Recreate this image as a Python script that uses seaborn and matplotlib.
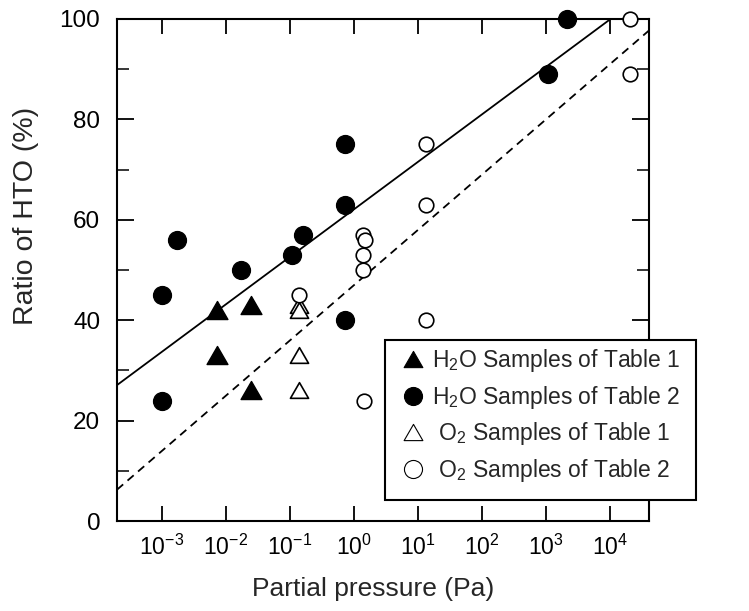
import numpy as np
import pandas as pd
import matplotlib
matplotlib.use("Agg")
import matplotlib.pyplot as plt
from matplotlib.path import Path
from matplotlib.lines import Line2D
from matplotlib.patches import Rectangle
import seaborn as sns

# ---- data -------------------------------------------------------------
h2o_t1_pressure = [0.0072, 0.0072, 0.025, 0.025]
h2o_t1_ratio = [42, 33, 43, 26]

h2o_t2_pressure = [0.001, 0.001, 0.0017, 0.0173, 0.106, 0.16, 0.71, 0.71, 0.71, 1060, 2100]
h2o_t2_ratio = [45, 24, 56, 50, 53, 57, 75, 63, 40, 89, 100]

o2_t1_pressure = [0.14, 0.14, 0.14, 0.14]
o2_t1_ratio = [43, 42, 33, 26]

o2_t2_pressure = [0.14, 1.36, 1.49, 1.40, 1.40, 1.44, 13.4, 13.4, 13.4, 20500, 20500]
o2_t2_ratio = [45, 57, 56, 53, 50, 24, 75, 63, 40, 100, 89]

# linear fits of ratio against log10(pressure): (intercept, slope, x-range)
h2o_fit = (62.1, 9.47, (2e-4, 1e4))
o2_fit = (47.0, 11.02, (2e-4, 4e4))

x_ticks = [1e-3, 1e-2, 1e-1, 1e0, 1e1, 1e2, 1e3, 1e4]
x_tick_labels = [r"$10^{-3}$", r"$10^{-2}$", r"$10^{-1}$", r"$10^{0}$",
                 r"$10^{1}$", r"$10^{2}$", r"$10^{3}$", r"$10^{4}$"]
y_ticks = [0, 20, 40, 60, 80, 100]

labels = [r"H$_2$O Samples of Table 1", r"H$_2$O Samples of Table 2",
          r" O$_2$ Samples of Table 1", r" O$_2$ Samples of Table 2"]

# ---- style ------------------------------------------------------------
sns.set_style("ticks")
plt.rcParams["font.family"] = ["Liberation Sans", "DejaVu Sans"]
plt.rcParams["mathtext.fontset"] = "custom"
plt.rcParams["mathtext.rm"] = "Liberation Sans"
plt.rcParams["mathtext.it"] = "Liberation Sans:italic"
plt.rcParams["mathtext.bf"] = "Liberation Sans:bold"
plt.rcParams["mathtext.default"] = "regular"

# equilateral triangle, centred on its bounding box
tri = Path([(-1, -0.866), (1, -0.866), (0, 0.866), (-1, -0.866)],
           [Path.MOVETO, Path.LINETO, Path.LINETO, Path.CLOSEPOLY])

W, H = 749, 611
fig = plt.figure(figsize=(W / 100, H / 100), dpi=100)
ax = fig.add_axes([117 / W, 1 - 521 / H, 532 / W, 502 / H])

groups = [
    (h2o_t1_pressure, h2o_t1_ratio, tri, 225, "black", "black", 1.0),
    (h2o_t2_pressure, h2o_t2_ratio, "o", 165, "black", "black", 1.0),
    (o2_t1_pressure, o2_t1_ratio, tri, 170, "white", "black", 1.2),
    (o2_t2_pressure, o2_t2_ratio, "o", 110, "white", "black", 1.2),
]

# fit lines
for (a, b, (x0, x1)), ls in [(h2o_fit, "-"), (o2_fit, (0, (4.5, 3.2)))]:
    xs = np.logspace(np.log10(x0), np.log10(x1), 50)
    fit_df = pd.DataFrame({"pressure": xs, "ratio": a + b * np.log10(xs)})
    sns.lineplot(data=fit_df, x="pressure", y="ratio", ax=ax, color="black",
                 lw=1.3, linestyle=ls, clip_on=False, zorder=2)

for px, ry, mk, s, fc, ec, lw in groups:
    df = pd.DataFrame({"pressure": px, "ratio": ry})
    sns.scatterplot(data=df, x="pressure", y="ratio", ax=ax, marker=mk, s=s,
                    color=fc, edgecolor=ec, linewidth=lw, clip_on=False,
                    zorder=3, legend=False)

ax.set_xscale("log")
ax.set_xlim(2e-4, 4e4)
ax.set_ylim(0, 100)
ax.set_xticks(x_ticks)
ax.set_xticklabels(x_tick_labels)
ax.xaxis.set_minor_locator(matplotlib.ticker.NullLocator())
ax.set_yticks(y_ticks)
ax.set_yticks(np.arange(10, 100, 20), minor=True)

for side in ["top", "right", "bottom", "left"]:
    ax.spines[side].set_visible(True)
    ax.spines[side].set_linewidth(1.5)
    ax.spines[side].set_color("black")

ax.tick_params(axis="x", which="major", direction="in", top=True, bottom=True,
               length=11, width=1.3, labelsize=16.5, pad=10, colors="black")
ax.tick_params(axis="y", which="major", direction="in", left=True, right=True,
               length=12, width=1.3, labelsize=17.5, pad=12, colors="black")
ax.tick_params(axis="y", which="minor", direction="in", left=True, right=True,
               length=8.5, width=1.3)

ax.set_xlabel("Partial pressure (Pa)", fontsize=19)
ax.set_ylabel("Ratio of HTO (%)", fontsize=20.5)
ax.xaxis.set_label_coords(0.481, -0.111)
ax.yaxis.set_label_coords(-0.147, 0.608)

# legend: markers and labels, with a plain rectangular frame
handles = [
    Line2D([], [], ls="none", marker=tri, ms=13.5, mfc="black", mec="black", mew=0.8),
    Line2D([], [], ls="none", marker="o", ms=13, mfc="black", mec="black", mew=0.8),
    Line2D([], [], ls="none", marker=tri, ms=13.5, mfc="white", mec="black", mew=0.8),
    Line2D([], [], ls="none", marker="o", ms=13, mfc="white", mec="black", mew=0.8),
]
fig.legend(handles, labels, loc="upper left",
           bbox_to_anchor=(402 / W, 1 - 347 / H),
           frameon=False, fontsize=16.5, handletextpad=0.31,
           labelspacing=0.42, borderpad=0, borderaxespad=0,
           handlelength=1.0)
fig.add_artist(Rectangle((385 / W, 1 - 500 / H), 311 / W, 160 / H,
                         transform=fig.transFigure, fill=True,
                         facecolor="white", edgecolor="black", lw=1.5,
                         zorder=4))
fig.legends[0].set_zorder(5)

fig.savefig("out.png", dpi=100)
